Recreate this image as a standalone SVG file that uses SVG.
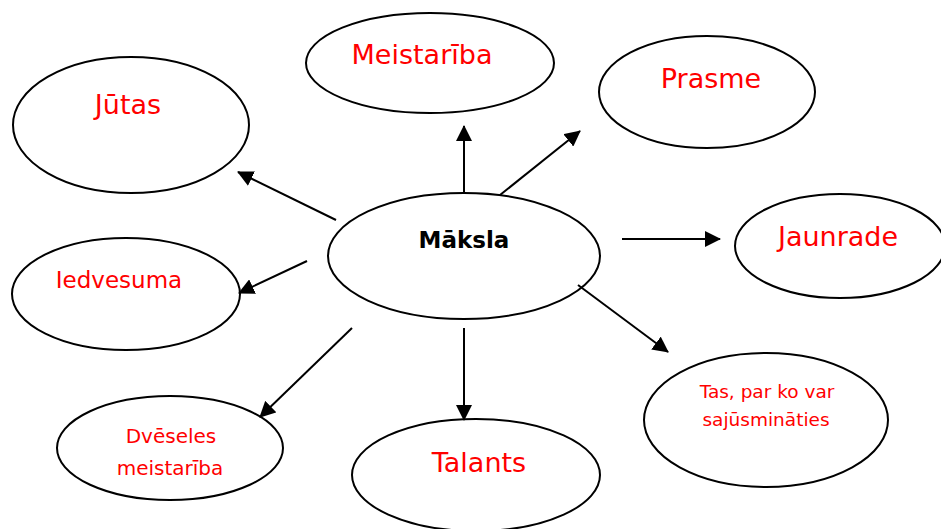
<svg xmlns="http://www.w3.org/2000/svg" width="941" height="529" viewBox="0 0 941 529">
  <style>
    .node ellipse { fill: #ffffff; stroke: #000000; stroke-width: 2; }
    .lbl { font-family: "DejaVu Sans", "Liberation Sans", sans-serif; fill: #ff0000; text-anchor: middle; }
    .hub { font-family: "DejaVu Sans", "Liberation Sans", sans-serif; font-weight: bold; fill: #000000; text-anchor: middle; font-size: 23px; }
    .conn line { stroke: #000000; stroke-width: 2; marker-end: url(#tip); }
  </style>
  <defs>
    <marker id="tip" markerUnits="userSpaceOnUse" markerWidth="16" markerHeight="16" refX="15" refY="8" orient="auto">
      <path d="M0,0 L16,8 L0,16 Z" fill="#000000"/>
    </marker>
  </defs>
  <rect width="941" height="529" fill="#ffffff"/>

  <g id="node-maksla" class="node">
    <ellipse cx="464" cy="256" rx="136" ry="63"/>
    <text class="hub" x="464" y="248">Māksla</text>
  </g>
  <g id="node-meistariba" class="node">
    <ellipse cx="430" cy="63" rx="124" ry="50"/>
    <text class="lbl" x="422" y="64" font-size="27">Meistarība</text>
  </g>
  <g id="node-prasme" class="node">
    <ellipse cx="707" cy="92" rx="108" ry="56"/>
    <text class="lbl" x="711" y="88" font-size="27">Prasme</text>
  </g>
  <g id="node-jutas" class="node">
    <ellipse cx="131" cy="125" rx="118" ry="68"/>
    <text class="lbl" x="128" y="114" font-size="27">Jūtas</text>
  </g>
  <g id="node-jaunrade" class="node">
    <ellipse cx="840" cy="246" rx="105" ry="52"/>
    <text class="lbl" x="838" y="246" font-size="27">Jaunrade</text>
  </g>
  <g id="node-iedvesuma" class="node">
    <ellipse cx="126" cy="294" rx="114" ry="56"/>
    <text class="lbl" x="119" y="288" font-size="23">Iedvesuma</text>
  </g>
  <g id="node-dveseles" class="node">
    <ellipse cx="170" cy="448" rx="113" ry="52"/>
    <text class="lbl" x="171" y="443" font-size="20">Dvēseles</text>
    <text class="lbl" x="170" y="475" font-size="20">meistarība</text>
  </g>
  <g id="node-talants" class="node">
    <ellipse cx="476" cy="475" rx="124" ry="56"/>
    <text class="lbl" x="479" y="472" font-size="27">Talants</text>
  </g>
  <g id="node-sajusmin" class="node">
    <ellipse cx="766" cy="420" rx="122" ry="67"/>
    <text class="lbl" x="767" y="398" font-size="18.5">Tas, par ko var</text>
    <text class="lbl" x="766" y="426" font-size="18.5">sajūsmināties</text>
  </g>

  <g id="connectors" class="conn">
    <line x1="464" y1="193" x2="464" y2="126"/>
    <line x1="500" y1="195" x2="580" y2="131"/>
    <line x1="622" y1="239" x2="720" y2="239"/>
    <line x1="578" y1="285" x2="668" y2="352"/>
    <line x1="464" y1="328" x2="464" y2="420"/>
    <line x1="352" y1="328" x2="260" y2="417"/>
    <line x1="307" y1="261" x2="239" y2="293"/>
    <line x1="336" y1="220" x2="238" y2="172"/>
  </g>
</svg>
